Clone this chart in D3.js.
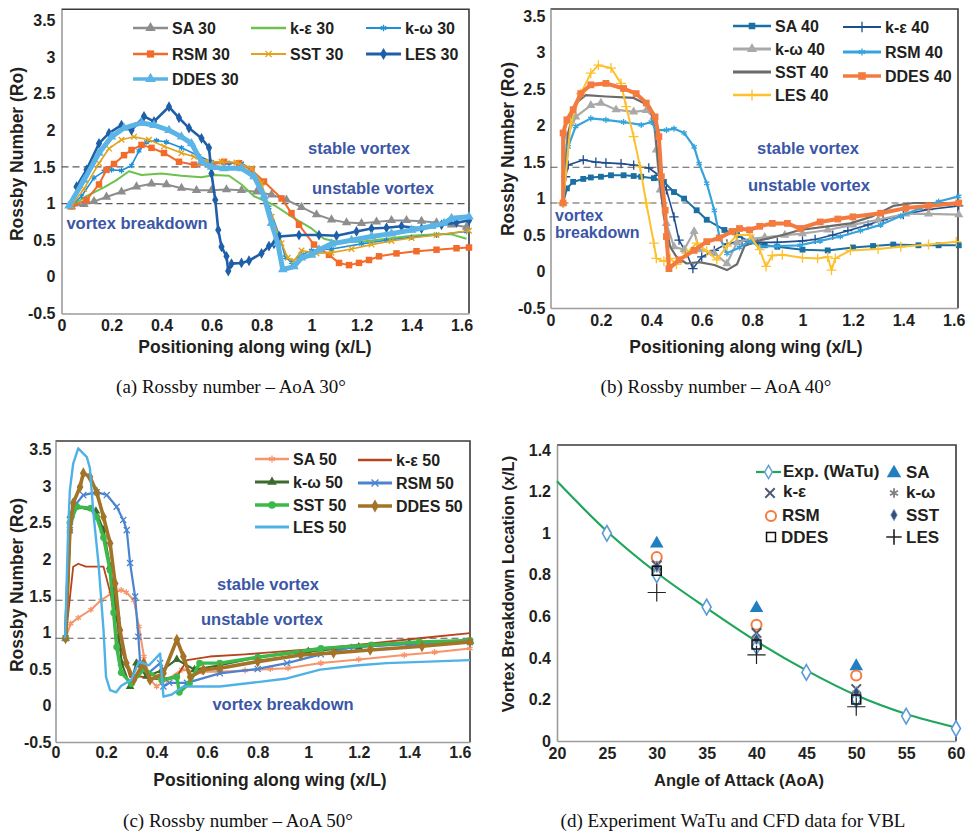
<!DOCTYPE html>
<html>
<head>
<meta charset="utf-8">
<script src="https://cdn.jsdelivr.net/npm/d3@7"></script>
<style>
  body { margin: 0; background: #fff; }
  svg { display: block; }
  .tick text { font-family: "Liberation Sans", Arial, sans-serif; font-weight: bold; font-size: 16px; fill: #231f20; }
  .lbl { font-family: "Liberation Sans", Arial, sans-serif; font-weight: bold; }
  .cap { font-family: "Liberation Serif", "Times New Roman", serif; fill: #111; }
</style>
</head>
<body>
<svg id="fig" width="966" height="832"></svg>
<script>
// ---------- tick values ----------
const rossbyTicks = [-0.5, 0, 0.5, 1, 1.5, 2, 2.5, 3, 3.5];
const posTicks = [0, 0.2, 0.4, 0.6, 0.8, 1, 1.2, 1.4, 1.6];
const aoaTicks = [20, 25, 30, 35, 40, 45, 50, 55, 60];
const vblTicks = [0, 0.2, 0.4, 0.6, 0.8, 1, 1.2, 1.4];

// stability bands (stable / unstable boundary, unstable / breakdown boundary)
const bandsA = [1.5, 1.0];
const bandsB = [1.43, 0.94];
const bandsC = [1.44, 0.92];

// ---------- AoA 30 : [x/L, Ro] ----------
const sa30 = [[0.04,0.96],[0.09,0.99],[0.13,1.03],[0.18,1.09],[0.24,1.16],[0.3,1.23],[0.36,1.27],[0.42,1.26],[0.48,1.21],[0.54,1.18],[0.6,1.18],[0.66,1.19],[0.72,1.18],[0.78,1.16],[0.84,1.12],[0.9,1.05],[0.96,0.95],[1.02,0.85],[1.08,0.78],[1.14,0.74],[1.2,0.73],[1.26,0.75],[1.32,0.77],[1.38,0.77],[1.44,0.76],[1.5,0.74],[1.56,0.71],[1.62,0.68]];
const ke30 = [[0.04,0.97],[0.1,1.1],[0.17,1.22],[0.22,1.32],[0.27,1.44],[0.32,1.39],[0.4,1.41],[0.48,1.38],[0.56,1.36],[0.61,1.39],[0.67,1.38],[0.72,1.26],[0.77,1.1],[0.85,0.98],[0.93,0.8],[1.0,0.66],[1.05,0.52],[1.1,0.48],[1.2,0.48],[1.3,0.52],[1.4,0.56],[1.5,0.58],[1.56,0.58],[1.62,0.52]];
const kw30 = [[0.04,0.97],[0.08,1.1],[0.13,1.35],[0.17,1.44],[0.2,1.46],[0.24,1.45],[0.28,1.52],[0.31,1.72],[0.34,1.84],[0.38,1.86],[0.42,1.84],[0.48,1.76],[0.55,1.65],[0.6,1.57],[0.67,1.55],[0.72,1.55],[0.76,1.47],[0.79,1.3],[0.83,0.95],[0.87,0.58],[0.895,0.27],[0.92,0.2],[0.96,0.3],[1.0,0.36],[1.08,0.38],[1.2,0.45],[1.3,0.5],[1.4,0.54],[1.5,0.57],[1.62,0.62]];
const rsm30 = [[0.04,0.96],[0.1,1.05],[0.15,1.26],[0.18,1.46],[0.21,1.54],[0.25,1.66],[0.28,1.73],[0.32,1.8],[0.36,1.76],[0.41,1.69],[0.47,1.57],[0.53,1.53],[0.6,1.53],[0.65,1.57],[0.71,1.55],[0.76,1.46],[0.81,1.3],[0.88,1.07],[0.92,0.87],[0.95,0.71],[1.01,0.44],[1.07,0.3],[1.11,0.19],[1.15,0.16],[1.19,0.19],[1.23,0.23],[1.27,0.28],[1.34,0.32],[1.42,0.35],[1.5,0.37],[1.58,0.39],[1.63,0.4]];
const sst30 = [[0.04,0.97],[0.09,1.2],[0.15,1.55],[0.19,1.75],[0.24,1.87],[0.29,1.91],[0.35,1.87],[0.41,1.78],[0.48,1.69],[0.53,1.64],[0.59,1.57],[0.64,1.57],[0.7,1.56],[0.76,1.48],[0.8,1.28],[0.84,0.82],[0.88,0.46],[0.905,0.26],[0.93,0.22],[0.96,0.36],[1.02,0.32],[1.08,0.33],[1.16,0.38],[1.24,0.44],[1.32,0.49],[1.4,0.53],[1.5,0.57],[1.63,0.63]];
const les30 = [[0.06,1.23],[0.1,1.46],[0.15,1.82],[0.19,1.96],[0.24,2.07],[0.28,2.0],[0.33,2.19],[0.37,2.12],[0.43,2.32],[0.47,2.17],[0.51,2.03],[0.56,1.89],[0.59,1.76],[0.6,1.41],[0.615,1.05],[0.627,0.64],[0.64,0.41],[0.66,0.28],[0.667,0.08],[0.68,0.18],[0.72,0.19],[0.75,0.22],[0.8,0.32],[0.83,0.42],[0.85,0.45],[0.87,0.55],[0.95,0.57],[1.03,0.57],[1.1,0.56],[1.18,0.62],[1.24,0.66],[1.3,0.67],[1.36,0.69],[1.44,0.66],[1.52,0.71],[1.58,0.74],[1.63,0.77]];
const ddes30 = [[0.03,0.97],[0.09,1.32],[0.15,1.69],[0.2,1.91],[0.25,2.03],[0.32,2.1],[0.37,2.07],[0.43,2.0],[0.48,1.91],[0.52,1.82],[0.56,1.57],[0.6,1.5],[0.65,1.48],[0.72,1.48],[0.77,1.37],[0.81,1.1],[0.84,0.73],[0.865,0.46],[0.885,0.1],[0.93,0.14],[0.96,0.26],[1.0,0.3],[1.03,0.37],[1.08,0.45],[1.16,0.5],[1.24,0.55],[1.32,0.59],[1.4,0.64],[1.48,0.69],[1.53,0.73],[1.56,0.8],[1.63,0.82]];

// ---------- AoA 40 ----------
const sa40 = [[0.05,0.94],[0.065,1.14],[0.09,1.23],[0.13,1.27],[0.16,1.29],[0.2,1.3],[0.24,1.32],[0.29,1.32],[0.33,1.31],[0.36,1.3],[0.41,1.28],[0.45,1.23],[0.49,1.09],[0.53,1.0],[0.58,0.84],[0.62,0.71],[0.69,0.57],[0.74,0.5],[0.79,0.41],[0.85,0.36],[0.9,0.34],[1.0,0.3],[1.1,0.29],[1.2,0.33],[1.28,0.35],[1.36,0.37],[1.46,0.36],[1.54,0.36],[1.62,0.36]];
const ke40 = [[0.05,0.94],[0.06,1.3],[0.07,1.46],[0.13,1.53],[0.18,1.5],[0.22,1.49],[0.28,1.48],[0.33,1.46],[0.39,1.42],[0.43,1.32],[0.46,1.12],[0.49,0.75],[0.51,0.43],[0.54,0.25],[0.565,0.04],[0.6,0.2],[0.65,0.29],[0.7,0.38],[0.76,0.42],[0.82,0.4],[0.9,0.4],[1.0,0.42],[1.05,0.44],[1.12,0.5],[1.18,0.56],[1.26,0.64],[1.32,0.71],[1.4,0.78],[1.5,0.85],[1.62,0.9]];
const kw40 = [[0.05,0.94],[0.065,1.85],[0.1,2.12],[0.16,2.28],[0.2,2.31],[0.26,2.22],[0.33,2.19],[0.38,2.21],[0.41,2.12],[0.42,1.67],[0.435,1.12],[0.46,0.66],[0.49,0.34],[0.53,0.3],[0.57,0.55],[0.59,0.3],[0.65,0.25],[0.7,0.11],[0.74,0.4],[0.8,0.45],[0.85,0.47],[0.93,0.5],[1.0,0.52],[1.1,0.57],[1.2,0.64],[1.3,0.71],[1.41,0.79],[1.5,0.79],[1.62,0.78]];
const rsm40 = [[0.05,0.94],[0.07,1.71],[0.1,1.99],[0.16,2.1],[0.22,2.08],[0.29,2.05],[0.36,2.01],[0.4,2.05],[0.42,1.94],[0.46,1.94],[0.49,1.96],[0.53,1.9],[0.57,1.71],[0.59,1.48],[0.62,1.21],[0.65,0.84],[0.67,0.48],[0.7,0.25],[0.75,0.33],[0.79,0.42],[0.83,0.34],[0.9,0.35],[0.99,0.36],[1.07,0.42],[1.15,0.48],[1.23,0.56],[1.31,0.64],[1.39,0.76],[1.47,0.87],[1.54,0.96],[1.62,1.03]];
const sst40 = [[0.05,0.94],[0.07,1.9],[0.1,2.31],[0.14,2.42],[0.22,2.4],[0.33,2.38],[0.37,2.31],[0.395,2.26],[0.415,1.94],[0.435,1.21],[0.45,0.75],[0.475,0.34],[0.5,0.2],[0.54,0.11],[0.59,0.13],[0.65,0.09],[0.7,0.02],[0.74,0.1],[0.77,0.35],[0.82,0.42],[0.9,0.48],[0.99,0.57],[1.1,0.62],[1.19,0.66],[1.28,0.76],[1.36,0.9],[1.44,0.94],[1.52,0.94],[1.61,0.94]];
const ddes40 = [[0.05,0.94],[0.05,1.9],[0.065,2.08],[0.09,2.22],[0.12,2.44],[0.16,2.56],[0.22,2.58],[0.29,2.51],[0.34,2.44],[0.38,2.31],[0.415,2.12],[0.43,1.85],[0.44,1.3],[0.455,0.84],[0.46,0.48],[0.47,0.04],[0.51,0.16],[0.57,0.29],[0.62,0.41],[0.67,0.46],[0.72,0.55],[0.75,0.59],[0.79,0.57],[0.83,0.62],[0.88,0.66],[0.94,0.66],[0.99,0.59],[1.07,0.68],[1.14,0.72],[1.2,0.75],[1.31,0.8],[1.41,0.87],[1.5,0.9],[1.62,0.94]];
const les40 = [[0.05,0.94],[0.08,2.03],[0.12,2.44],[0.16,2.72],[0.19,2.83],[0.24,2.79],[0.28,2.58],[0.3,2.26],[0.33,1.85],[0.355,1.44],[0.38,0.94],[0.41,0.39],[0.42,0.18],[0.45,0.14],[0.475,0.18],[0.5,0.1],[0.54,0.25],[0.58,0.39],[0.62,0.28],[0.66,0.16],[0.7,0.35],[0.74,0.5],[0.79,0.5],[0.83,0.3],[0.855,0.07],[0.88,0.22],[0.92,0.23],[1.0,0.19],[1.06,0.18],[1.1,0.2],[1.115,0.02],[1.13,0.18],[1.19,0.29],[1.3,0.31],[1.39,0.34],[1.5,0.37],[1.61,0.41]];

// ---------- AoA 50 ----------
const sa50 = [[0.04,0.92],[0.06,1.12],[0.09,1.2],[0.14,1.31],[0.18,1.44],[0.22,1.53],[0.26,1.58],[0.28,1.55],[0.31,1.44],[0.33,1.08],[0.35,0.67],[0.375,0.35],[0.4,0.26],[0.44,0.35],[0.5,0.49],[0.58,0.46],[0.65,0.46],[0.75,0.48],[0.85,0.5],[0.92,0.51],[1.05,0.58],[1.2,0.63],[1.38,0.69],[1.5,0.73],[1.64,0.78]];
const ke50 = [[0.04,0.92],[0.07,1.9],[0.09,1.94],[0.12,1.9],[0.19,1.9],[0.22,1.5],[0.24,0.99],[0.27,0.67],[0.295,0.39],[0.33,0.4],[0.4,0.36],[0.48,0.39],[0.52,0.62],[0.61,0.67],[0.75,0.7],[0.9,0.74],[1.05,0.78],[1.25,0.85],[1.44,0.92],[1.64,0.99]];
const kw50 = [[0.04,0.92],[0.06,2.6],[0.085,2.72],[0.16,2.66],[0.19,2.4],[0.216,1.9],[0.242,1.22],[0.262,0.58],[0.295,0.26],[0.32,0.58],[0.36,0.4],[0.42,0.48],[0.48,0.63],[0.55,0.49],[0.65,0.55],[0.8,0.66],[1.0,0.74],[1.2,0.8],[1.4,0.85],[1.64,0.88]];
const rsm50 = [[0.04,0.92],[0.057,2.4],[0.084,2.77],[0.11,2.88],[0.163,2.92],[0.203,2.88],[0.242,2.72],[0.268,2.54],[0.282,2.4],[0.295,1.95],[0.315,1.49],[0.328,0.94],[0.335,0.58],[0.37,0.45],[0.414,0.58],[0.427,0.26],[0.45,0.31],[0.52,0.31],[0.65,0.44],[0.8,0.5],[0.916,0.58],[1.05,0.7],[1.18,0.8],[1.4,0.84],[1.64,0.87]];
const sst50 = [[0.04,0.92],[0.057,2.5],[0.084,2.72],[0.14,2.7],[0.163,2.58],[0.19,2.3],[0.216,1.85],[0.23,1.27],[0.242,0.8],[0.26,0.45],[0.3,0.3],[0.35,0.5],[0.42,0.35],[0.48,0.39],[0.49,0.18],[0.53,0.3],[0.57,0.58],[0.65,0.58],[0.8,0.66],[1.05,0.78],[1.25,0.83],[1.44,0.87],[1.64,0.89]];
const ddes50 = [[0.04,0.92],[0.057,2.4],[0.07,2.77],[0.097,2.99],[0.11,3.18],[0.136,3.13],[0.163,2.92],[0.19,2.58],[0.216,2.22],[0.236,1.67],[0.255,1.03],[0.28,0.58],[0.31,0.35],[0.348,0.58],[0.374,0.35],[0.427,0.44],[0.48,0.9],[0.506,0.67],[0.533,0.39],[0.585,0.49],[0.65,0.51],[0.8,0.6],[0.97,0.69],[1.1,0.72],[1.245,0.76],[1.45,0.81],[1.64,0.87]];
const les50 = [[0.038,0.92],[0.05,2.4],[0.057,2.95],[0.07,3.31],[0.09,3.52],[0.124,3.4],[0.136,3.25],[0.15,2.63],[0.17,1.95],[0.19,1.03],[0.2,0.39],[0.216,0.21],[0.24,0.18],[0.26,0.27],[0.3,0.35],[0.33,0.6],[0.37,0.55],[0.414,0.71],[0.427,0.12],[0.46,0.15],[0.506,0.26],[0.65,0.26],[0.8,0.32],[0.916,0.37],[1.047,0.49],[1.2,0.55],[1.31,0.58],[1.64,0.62]];

// ---------- vortex breakdown location vs angle of attack ----------
const expAoA = [25, 30, 35, 40, 45, 50, 55, 60];
const expVbl = [1.0, 0.80, 0.645, 0.455, 0.33, 0.20, 0.12, 0.06];
const trendAoA = [20, 25, 30, 35, 40, 45, 50, 55, 60];
const trendVbl = [1.25, 1.01, 0.81, 0.64, 0.48, 0.34, 0.22, 0.13, 0.065];
const cfdAoA = [30, 40, 50];
const vblSA = [0.95, 0.64, 0.36];
const vblKe = [0.845, 0.52, 0.25];
const vblKw = [0.835, 0.49, 0.23];
const vblRSM = [0.885, 0.56, 0.315];
const vblSST = [0.84, 0.49, 0.235];
const vblDDES = [0.82, 0.465, 0.20];
const vblLES = [0.715, 0.415, 0.165];

// ---------- drawing ----------
const svg = d3.select("#fig");
const fmt = d => String(+d.toFixed(2));
const SYM = {
  tri: d3.symbolTriangle, sq: d3.symbolSquare, dia: d3.symbolDiamond, circ: d3.symbolCircle,
  ast: d3.symbolAsterisk, plus: d3.symbolPlus, times: d3.symbolTimes
};
const STROKE_SYM = new Set(["ast", "plus", "times"]);

function marker(g, sym, size, color, x, y, opts = {}) {
  const p = g.append("path")
    .attr("d", d3.symbol().type(SYM[sym]).size(size)())
    .attr("transform", `translate(${x},${y})`);
  if (STROKE_SYM.has(sym) || opts.hollow) {
    p.attr("fill", opts.hollow ? (opts.fill || "#fff") : "none")
     .attr("stroke", color).attr("stroke-width", opts.sw || 1.3);
  } else {
    p.attr("fill", color);
    if (opts.edge) p.attr("stroke", opts.edge).attr("stroke-width", 0.8);
  }
  return p;
}

function frameAndAxes(g, x, y, xTicks, yTicks, xPad, yPad) {
  const [x0, x1] = x.range();
  const [yb, yt] = y.range();
  g.append("path").attr("d", `M${x0},${yt}H${x1}V${yb}`)
    .attr("fill", "none").attr("stroke", "#3a3a3a").attr("stroke-width", 1.6);
  const ax = g.append("g").attr("transform", `translate(0,${yb})`)
    .call(d3.axisBottom(x).tickValues(xTicks).tickSize(0).tickPadding(xPad).tickFormat(fmt));
  const ay = g.append("g").attr("transform", `translate(${x0},0)`)
    .call(d3.axisLeft(y).tickValues(yTicks).tickSize(0).tickPadding(yPad).tickFormat(fmt));
  [ax, ay].forEach(a => a.select(".domain").attr("stroke", "#9c9c9c").attr("stroke-width", 1.6));
}

function text(g, str, x, y, size, opts = {}) {
  const t = g.append("text").attr("x", x).attr("y", y).attr("dy", "0.35em")
    .attr("class", opts.cls || "lbl")
    .attr("font-size", size)
    .attr("fill", opts.fill || "#231f20")
    .attr("text-anchor", opts.anchor || "middle")
    .text(str);
  if (opts.rotate) t.attr("transform", `rotate(-90,${x},${y})`);
  return t;
}

function rossbyPanel(p) {
  const g = svg.append("g");
  const x = d3.scaleLinear().domain(p.xDomain).range(p.xRange);
  const y = d3.scaleLinear().domain(p.yDomain).range(p.yRange);
  frameAndAxes(g, x, y, posTicks, rossbyTicks, p.xPad, p.yPad);

  // stability boundaries
  p.bands.forEach(v => g.append("line")
    .attr("x1", x.range()[0]).attr("x2", x.range()[1])
    .attr("y1", y(v)).attr("y2", y(v))
    .attr("stroke", "#5a5a5a").attr("stroke-width", 1.2).attr("stroke-dasharray", "7,4"));

  const line = d3.line().x(d => x(d[0])).y(d => y(d[1]));
  const plot = g.append("g");
  p.series.forEach(s => {
    plot.append("path").datum(s.data).attr("d", line)
      .attr("fill", "none").attr("stroke", s.color).attr("stroke-width", s.w)
      .attr("stroke-linejoin", "round");
    if (s.sym) s.data.forEach(d => marker(plot, s.sym, s.size, s.color, x(d[0]), y(d[1])));
  });

  // legend
  const lg = g.append("g");
  p.legend.forEach(e => {
    const s = p.series.find(v => v.name === e.name);
    lg.append("line").attr("x1", e.x).attr("x2", e.x + p.legLen).attr("y1", e.y).attr("y2", e.y)
      .attr("stroke", s.color).attr("stroke-width", Math.min(s.w + 0.6, 3.5));
    if (s.sym) marker(lg, s.sym, s.size * 1.25, s.color, e.x + p.legLen / 2, e.y);
    text(lg, s.name, e.x + p.legLen + 4, e.y, 16, { anchor: "start" });
  });

  p.labels.forEach(l => text(g, l.t, l.x, l.y, l.s || 16.5, { fill: "#3b56a6", anchor: l.a || "middle" }));
  text(g, "Positioning along wing (x/L)", p.xTitle[0], p.xTitle[1], 17.5);
  text(g, "Rossby Number (Ro)", p.yTitle[0], p.yTitle[1], 17.5, { rotate: true });
  text(g, p.caption, p.cap[0], p.cap[1], 19, { cls: "cap", fill: "#111" });
}

// (a) AoA 30
rossbyPanel({
  xDomain: [0, 1.63], xRange: [61.5, 469], yDomain: [-0.5, 3.65], yRange: [313.5, 9.3],
  xPad: 6, yPad: 6, bands: bandsA,
  series: [
    { name: "SA 30", data: sa30, color: "#8d8d8d", w: 2, sym: "tri", size: 38 },
    { name: "k-ε 30", data: ke30, color: "#6cc24a", w: 2 },
    { name: "k-ω 30", data: kw30, color: "#1e90d8", w: 1.6, sym: "ast", size: 22 },
    { name: "RSM 30", data: rsm30, color: "#f26b2a", w: 2, sym: "sq", size: 42 },
    { name: "SST 30", data: sst30, color: "#e3a21a", w: 1.6, sym: "times", size: 22 },
    { name: "LES 30", data: les30, color: "#1f5fa8", w: 2.6, sym: "dia", size: 34 },
    { name: "DDES 30", data: ddes30, color: "#5ab4e5", w: 5, sym: "tri", size: 40 }
  ],
  legLen: 35,
  legend: [
    { name: "SA 30", x: 133, y: 28 }, { name: "k-ε 30", x: 251, y: 28 }, { name: "k-ω 30", x: 366, y: 28 },
    { name: "RSM 30", x: 133, y: 54 }, { name: "SST 30", x: 251, y: 54 }, { name: "LES 30", x: 366, y: 54 },
    { name: "DDES 30", x: 133, y: 79 }
  ],
  labels: [
    { t: "stable vortex", x: 359, y: 148 },
    { t: "unstable vortex", x: 373, y: 188 },
    { t: "vortex breakdown", x: 137, y: 223 }
  ],
  xTitle: [255, 347], yTitle: [17, 154],
  caption: "(a) Rossby number – AoA 30°", cap: [231, 386]
});

// (b) AoA 40
rossbyPanel({
  xDomain: [0, 1.617], xRange: [550.5, 958], yDomain: [-0.5, 3.6], yRange: [308, 9],
  xPad: 7, yPad: 5, bands: bandsB,
  series: [
    { name: "SA 40", data: sa40, color: "#1a6fa3", w: 2, sym: "sq", size: 34 },
    { name: "k-ε 40", data: ke40, color: "#1f4e8c", w: 1.6, sym: "plus", size: 30 },
    { name: "k-ω 40", data: kw40, color: "#a9a9a9", w: 2.2, sym: "tri", size: 36 },
    { name: "SST 40", data: sst40, color: "#6b6b6b", w: 2.2 },
    { name: "RSM 40", data: rsm40, color: "#36a3dc", w: 2.2, sym: "ast", size: 26 },
    { name: "LES 40", data: les40, color: "#fdc12e", w: 2, sym: "plus", size: 34 },
    { name: "DDES 40", data: ddes40, color: "#f47b3f", w: 4, sym: "sq", size: 46 }
  ],
  legLen: 38,
  legend: [
    { name: "SA 40", x: 733, y: 26 }, { name: "k-ε 40", x: 843, y: 27 },
    { name: "k-ω 40", x: 733, y: 49 }, { name: "RSM 40", x: 843, y: 52 },
    { name: "SST 40", x: 733, y: 72 }, { name: "DDES 40", x: 843, y: 76 },
    { name: "LES 40", x: 733, y: 95 }
  ],
  labels: [
    { t: "stable vortex", x: 808, y: 148 },
    { t: "unstable vortex", x: 809, y: 185 },
    { t: "vortex", x: 555, y: 215, a: "start", s: 16 },
    { t: "breakdown", x: 555, y: 232, a: "start", s: 16 }
  ],
  xTitle: [746, 347], yTitle: [508, 149],
  caption: "(b) Rossby number – AoA 40°", cap: [716, 386]
});

// (c) AoA 50
rossbyPanel({
  xDomain: [0, 1.64], xRange: [55.5, 470], yDomain: [-0.5, 3.62], yRange: [742, 441],
  xPad: 5, yPad: 4, bands: bandsC,
  series: [
    { name: "SA 50", data: sa50, color: "#f6946a", w: 2, sym: "ast", size: 26 },
    { name: "k-ε 50", data: ke50, color: "#b7441c", w: 1.8 },
    { name: "k-ω 50", data: kw50, color: "#3d6b2c", w: 2.2, sym: "tri", size: 32 },
    { name: "RSM 50", data: rsm50, color: "#4a84d0", w: 2.2, sym: "times", size: 26 },
    { name: "SST 50", data: sst50, color: "#3db84a", w: 3.4, sym: "circ", size: 36 },
    { name: "DDES 50", data: ddes50, color: "#a37428", w: 3.6, sym: "dia", size: 40 },
    { name: "LES 50", data: les50, color: "#4fb2e6", w: 2.4 }
  ],
  legLen: 34,
  legend: [
    { name: "SA 50", x: 255, y: 459 }, { name: "k-ε 50", x: 358, y: 460 },
    { name: "k-ω 50", x: 255, y: 482 }, { name: "RSM 50", x: 358, y: 483 },
    { name: "SST 50", x: 255, y: 505 }, { name: "DDES 50", x: 358, y: 506 },
    { name: "LES 50", x: 255, y: 527 }
  ],
  labels: [
    { t: "stable vortex", x: 268, y: 584 },
    { t: "unstable vortex", x: 262, y: 619 },
    { t: "vortex breakdown", x: 283, y: 704 }
  ],
  xTitle: [270, 780], yTitle: [17, 585],
  caption: "(c) Rossby number – AoA 50°", cap: [238, 820]
});

// (d) vortex breakdown location
(function () {
  const g = svg.append("g");
  const x = d3.scaleLinear().domain([20, 60]).range([557, 956]);
  const y = d3.scaleLinear().domain([0, 1.425]).range([741, 445]);
  frameAndAxes(g, x, y, aoaTicks, vblTicks, 7, 6);

  const trend = trendAoA.map((a, i) => [a, trendVbl[i]]);
  g.append("path").datum(trend)
    .attr("d", d3.line().x(d => x(d[0])).y(d => y(d[1])).curve(d3.curveMonotoneX))
    .attr("fill", "none").attr("stroke", "#1fa65a").attr("stroke-width", 2.2);

  const exp = g.append("g");
  expAoA.forEach((a, i) => marker(exp, "dia", 70, "#5b9bd5", x(a), y(expVbl[i]), { hollow: true, sw: 1.6 }));

  const cfd = [
    { vals: vblSA, draw: (gg, cx, cy) => marker(gg, "tri", 80, "#1f7fc0", cx, cy) },
    { vals: vblRSM, draw: (gg, cx, cy) => marker(gg, "circ", 80, "#f47b3f", cx, cy, { hollow: true, sw: 2 }) },
    { vals: vblKe, draw: (gg, cx, cy) => marker(gg, "times", 60, "#4d5b70", cx, cy, { sw: 2 }) },
    { vals: vblKw, draw: (gg, cx, cy) => marker(gg, "ast", 60, "#808080", cx, cy, { sw: 1.8 }) },
    { vals: vblSST, draw: (gg, cx, cy) => marker(gg, "dia", 40, "#34507a", cx, cy, { edge: "#9db3cf" }) },
    { vals: vblDDES, draw: (gg, cx, cy) => marker(gg, "sq", 80, "#111", cx, cy, { hollow: true, fill: "none", sw: 1.5 }) },
    { vals: vblLES, draw: (gg, cx, cy) => marker(gg, "plus", 110, "#222", cx, cy, { sw: 1.2 }) }
  ];
  const pts = g.append("g");
  cfd.forEach(c => cfdAoA.forEach((a, i) => c.draw(pts, x(a), y(c.vals[i]))));

  // legend
  const lg = g.append("g");
  lg.append("line").attr("x1", 756).attr("x2", 781).attr("y1", 472).attr("y2", 472)
    .attr("stroke", "#1fa65a").attr("stroke-width", 2.2);
  marker(lg, "dia", 50, "#5b9bd5", 768.5, 472, { hollow: true, sw: 1.4 });
  text(lg, "Exp. (WaTu)", 783, 471, 17, { anchor: "start" });
  marker(lg, "tri", 90, "#1f7fc0", 894, 473);
  text(lg, "SA", 906, 472, 17, { anchor: "start" });
  marker(lg, "times", 60, "#4d5b70", 770, 493, { sw: 2 });
  text(lg, "k-ε", 783, 491, 17, { anchor: "start" });
  marker(lg, "ast", 60, "#808080", 894, 493, { sw: 1.8 });
  text(lg, "k-ω", 906, 492, 17, { anchor: "start" });
  marker(lg, "circ", 80, "#f47b3f", 771, 516, { hollow: true, sw: 2 });
  text(lg, "RSM", 782, 515, 17, { anchor: "start" });
  marker(lg, "dia", 40, "#34507a", 894, 515, { edge: "#9db3cf" });
  text(lg, "SST", 906, 515, 17, { anchor: "start" });
  marker(lg, "sq", 80, "#111", 771, 537, { hollow: true, fill: "none", sw: 1.5 });
  text(lg, "DDES", 781, 537, 17, { anchor: "start" });
  marker(lg, "plus", 80, "#222", 894, 537, { sw: 1.6 });
  text(lg, "LES", 906, 537, 17, { anchor: "start" });

  text(g, "Angle of Attack (AoA)", 739, 780, 16.5);
  text(g, "Vortex Breakdown Location (x/L)", 508, 584, 16.5, { rotate: true });
  text(g, "(d) Experiment WaTu and CFD data for VBL", 733, 820, 19, { cls: "cap", fill: "#111" });
})();
</script>
</body>
</html>
